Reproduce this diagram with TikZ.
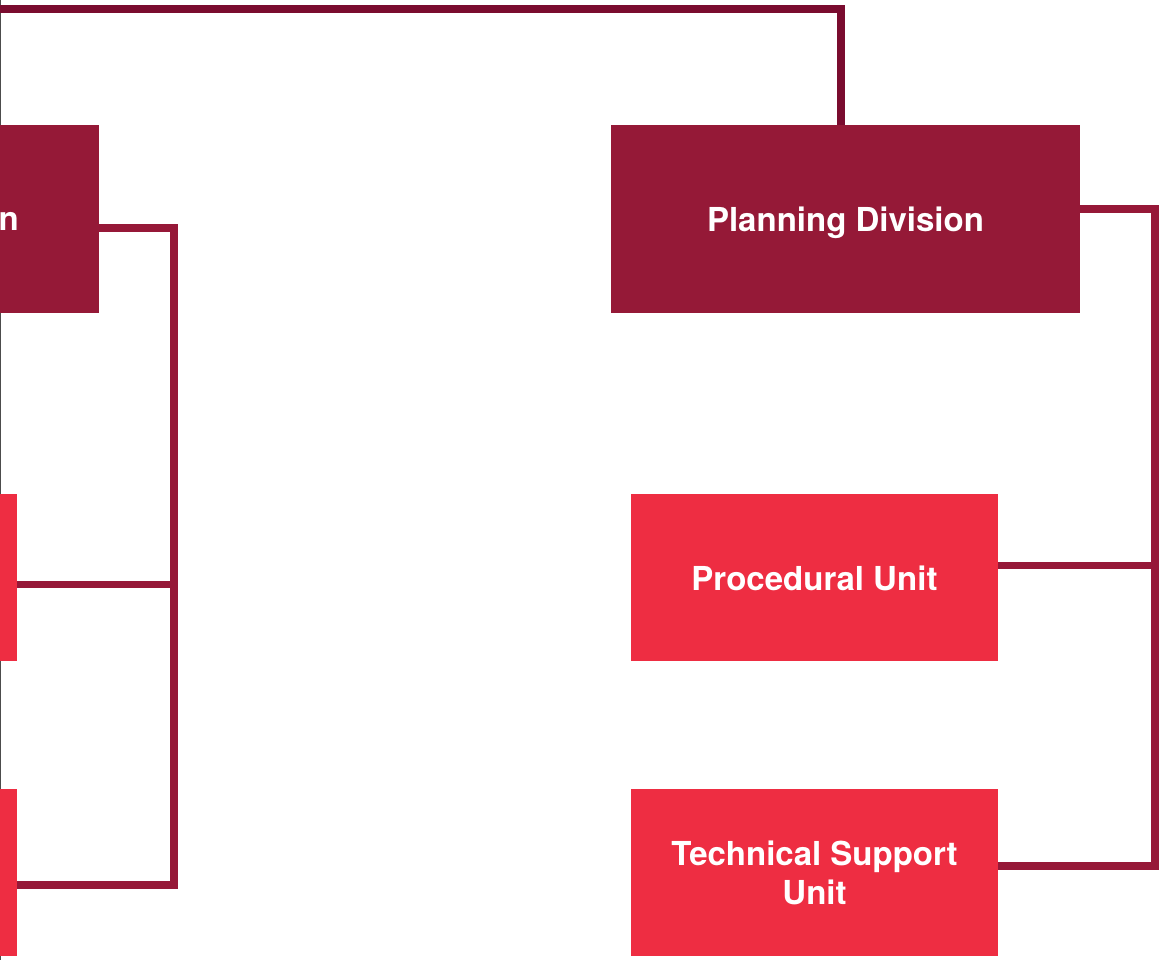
\documentclass[tikz,border=0pt]{standalone}
\usepackage{fontspec}
\setmainfont{TeX Gyre Heros}
\usetikzlibrary{positioning}

\definecolor{divred}{HTML}{951937}
\definecolor{unitred}{HTML}{EE2D42}
\definecolor{linkred}{HTML}{961838}
\definecolor{toplinkred}{HTML}{7A0C2F}

\begin{document}
\begin{tikzpicture}[
		x=1pt, y=1pt
		,division/.style={fill=divred, text=white, inner sep=0pt, minimum width=469pt, minimum height=188pt, align=center, text depth=0pt, font=\bfseries\fontsize{33}{39}\selectfont}
		,unit/.style={fill=unitred, text=white, inner sep=0pt, minimum width=367pt, minimum height=167pt, align=center, text depth=0pt, font=\bfseries\fontsize{33}{39}\selectfont}
		,link/.style={draw=linkred, line width=7.5pt, line join=miter}
		,toplink/.style={draw=toplinkred, line width=7.5pt, line join=miter}
		,edgeline/.style={draw=black!70, line width=1.2pt}
	]
		\clip (0,0) rectangle (1160,-960);

		% thin rule at the left edge
		\coordinate (edgetop) at (0.8,0);
		\coordinate (edgebot) at (0.8,-960);
		\draw[edgeline] (edgetop) -- (edgebot);

		% left branch (cut off by the page)
		\node[division] (ops) at (-135.5,-219) {};
		\node[anchor=base east, inner sep=0pt, text=white, font=\bfseries\fontsize{33}{39}\selectfont] (opsname) at (19,-231) {n};
		\node[unit, below=181pt of ops, xshift=-31pt] (opsa) {};
		\node[unit, below=127pt of opsa] (opsb) {};

		% right branch
		\node[division] (plan) at (845.5,-219) {Planning Division};
		\node[unit, below=181pt of plan, xshift=-31pt] (proc) {Procedural Unit};
		\node[unit, below=127pt of proc] (tech) {Technical Support\\Unit};

		% top connector
		\coordinate (topend) at (-10,-9);
		\draw[toplink] (topend) -| ([xshift=-4.5pt]plan.north);

		% left connectors
		\draw[link] ([yshift=-9pt]ops.east) -- ++(75,0) coordinate (ltrunk) |- ([yshift=-12.5pt]opsb.east);
		\path ([yshift=-6.5pt]opsa.east) coordinate (lmid);
		\draw[link] (lmid) -- (lmid -| ltrunk);

		% right connectors
		\draw[link] ([yshift=10pt]plan.east) -- ++(75,0) coordinate (rtrunk) |- ([yshift=6.5pt]tech.east);
		\path ([yshift=12.5pt]proc.east) coordinate (rmid);
		\draw[link] (rmid) -- (rmid -| rtrunk);
	\end{tikzpicture}
\end{document}
